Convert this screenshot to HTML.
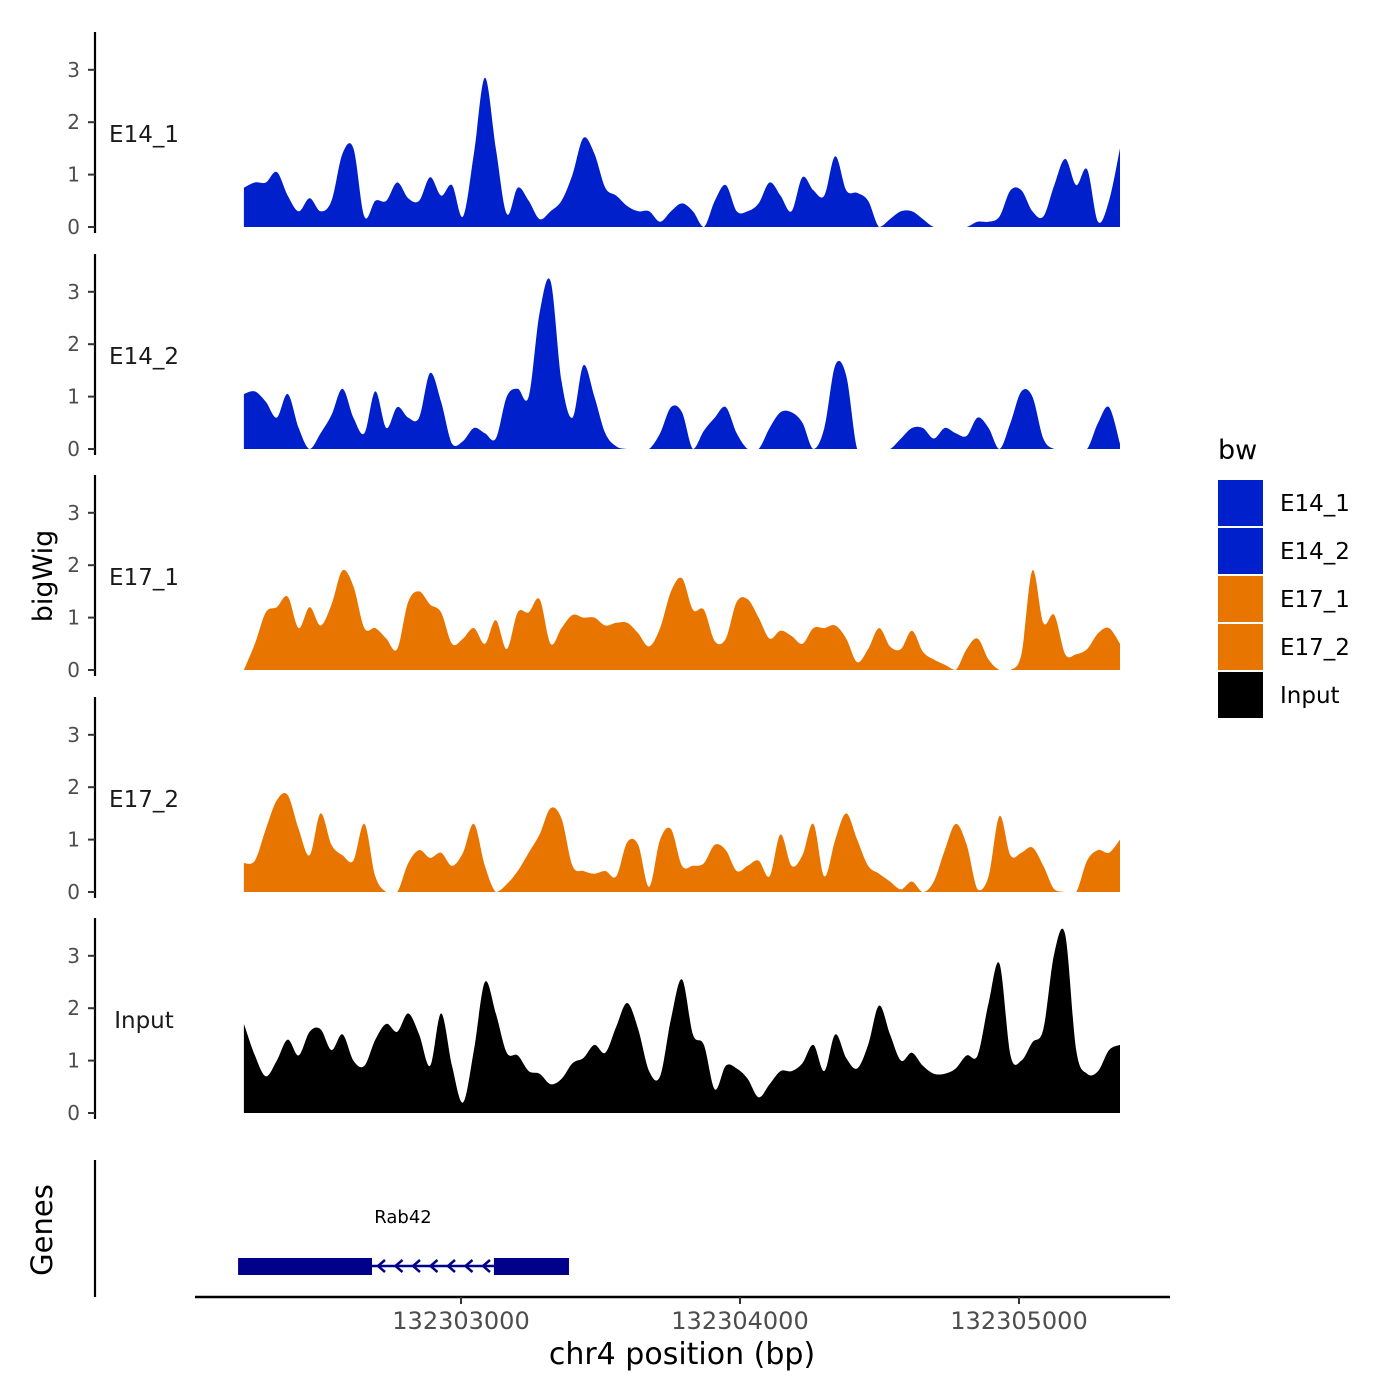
<!DOCTYPE html>
<html><head><meta charset="utf-8"><style>
html,body{margin:0;padding:0;background:#fff}
svg{display:block;font-family:"DejaVu Sans","Liberation Sans",sans-serif}
</style></head><body>
<svg id="chart" width="1400" height="1400" viewBox="0 0 1400 1400"></svg>
<script>
const trackNames = ["E14_1","E14_2","E17_1","E17_2","Input"];
const trackColors = ["#0020cc","#0020cc","#e87500","#e87500","#000000"];
const yTicks = [0,1,2,3];
const xTicks = [132303000,132304000,132305000];
const regionStart = 132302222, regionEnd = 132305362;
const e14_1 = [0.75,0.85,0.85,1.05,0.6,0.3,0.55,0.3,0.5,1.4,1.5,0.2,0.5,0.5,0.85,0.55,0.5,0.95,0.6,0.8,0.2,1.4,2.85,1.5,0.25,0.75,0.5,0.15,0.3,0.5,1.0,1.7,1.4,0.75,0.6,0.4,0.3,0.3,0.1,0.3,0.45,0.3,0.0,0.5,0.8,0.3,0.3,0.45,0.85,0.6,0.3,0.95,0.7,0.6,1.35,0.7,0.65,0.5,0,0.15,0.3,0.3,0.15,0,0,0,0,0.1,0.1,0.2,0.7,0.7,0.3,0.2,0.8,1.3,0.8,1.1,0.1,0.5,1.5];
const e14_2 = [1.05,1.1,0.9,0.6,1.05,0.4,0,0.3,0.65,1.15,0.6,0.3,1.1,0.4,0.8,0.6,0.6,1.45,0.9,0.1,0.15,0.4,0.3,0.2,1.0,1.15,1.0,2.6,3.2,1.3,0.6,1.6,1.0,0.3,0.05,0,0,0,0.3,0.8,0.7,0,0.35,0.6,0.8,0.3,0,0,0.4,0.7,0.7,0.5,0,0.4,1.6,1.4,0,0,0,0,0.2,0.4,0.4,0.2,0.4,0.3,0.25,0.6,0.4,0,0.5,1.1,1.0,0.2,0,0,0,0,0.5,0.8,0.1];
const e17_1 = [0,0.5,1.1,1.2,1.4,0.8,1.2,0.85,1.25,1.9,1.6,0.8,0.8,0.6,0.4,1.3,1.5,1.25,1.1,0.5,0.6,0.8,0.5,0.95,0.4,1.1,1.1,1.35,0.5,0.8,1.05,1.0,1.0,0.85,0.9,0.9,0.7,0.45,0.8,1.5,1.75,1.15,1.15,0.55,0.6,1.3,1.35,1.0,0.6,0.75,0.65,0.5,0.8,0.8,0.85,0.6,0.15,0.4,0.8,0.45,0.4,0.75,0.35,0.2,0.1,0,0.4,0.6,0.2,0,0,0.3,1.9,0.9,1.05,0.3,0.3,0.4,0.7,0.8,0.5];
const e17_2 = [0.55,0.6,1.2,1.75,1.85,1.2,0.7,1.5,0.9,0.7,0.6,1.3,0.3,0,0,0.55,0.8,0.65,0.75,0.5,0.75,1.3,0.5,0,0.15,0.4,0.75,1.1,1.6,1.4,0.5,0.4,0.35,0.4,0.3,0.95,0.9,0.1,1.0,1.2,0.5,0.5,0.55,0.9,0.8,0.4,0.5,0.6,0.3,1.1,0.5,0.7,1.3,0.3,1.0,1.5,1.0,0.5,0.35,0.2,0.05,0.2,0,0.2,0.8,1.3,0.9,0.05,0.3,1.45,0.7,0.75,0.85,0.5,0.05,0,0,0.6,0.8,0.75,1.0];
const input = [1.7,1.1,0.7,1.0,1.4,1.1,1.55,1.6,1.2,1.5,1.0,0.9,1.4,1.7,1.55,1.9,1.5,0.9,1.9,0.9,0.2,1.2,2.5,1.9,1.15,1.1,0.8,0.75,0.55,0.65,0.95,1.05,1.3,1.15,1.65,2.1,1.6,0.8,0.7,1.8,2.55,1.5,1.3,0.45,0.9,0.85,0.65,0.3,0.55,0.8,0.8,0.95,1.3,0.8,1.5,1.05,0.85,1.3,2.05,1.5,1.0,1.15,0.9,0.75,0.75,0.85,1.1,1.1,2.1,2.85,1.1,1.0,1.35,1.6,3.05,3.4,1.2,0.75,0.8,1.2,1.3];
const trackValues = [e14_1,e14_2,e17_1,e17_2,input];
const geneExons = [[132302201,132302681],[132303118,132303387]];
const geneIntron = [132302681,132303118];

const svg = document.getElementById('chart');
const NS = 'http://www.w3.org/2000/svg';
function mk(tag, attrs, parent, text){
  const e = document.createElementNS(NS, tag);
  for (const k in attrs) e.setAttribute(k, attrs[k]);
  if (text !== undefined) e.textContent = text;
  (parent||svg).appendChild(e);
  return e;
}
const xScale = bp => 461 + (bp - 132303000) * 0.279;
const baselines = [227,449,670,892,1113];
const unit = 52.4;

trackNames.forEach((name, t) => {
  const g = mk('g', {});
  
  
  const base = baselines[t];
  const yS = v => base - v * unit;
  const ax = mk('line', {x1:95, x2:95, y1:base-195, y2:base+6, stroke:'#000','stroke-width':2.2}, g);
  
  
  yTicks.forEach(v => {
    const tk = mk('line', {x1:88, x2:95, y1:yS(v), y2:yS(v), stroke:'#333','stroke-width':2}, g);
    
    
    const tl = mk('text', {x:80, y:yS(v)+7, 'text-anchor':'end', 'font-size':20, fill:'#4d4d4d'}, g, String(v));
    
    
  });
  const lab = mk('text', {x:144, y:base-85, 'text-anchor':'middle', 'font-size':23, fill:'#1a1a1a'}, g, name);
  
  
  const vals = trackValues[t];
  const n = vals.length;
  const step = (regionEnd - regionStart) / (n - 1);
  const pts = vals.map((v, i) => [xScale(regionStart + i*step), v]);
  let d = 'M' + pts[0][0].toFixed(1) + ',' + base + ' L' + pts[0][0].toFixed(1) + ',' + yS(pts[0][1]).toFixed(1);
  for (let i = 0; i < n - 1; i++) {
    const p0 = pts[Math.max(0,i-1)], p1 = pts[i], p2 = pts[i+1], p3 = pts[Math.min(n-1,i+2)];
    const k = 1/6;
    const c1x = p1[0] + (p2[0]-p0[0])*k, c1v = Math.max(0, p1[1] + (p2[1]-p0[1])*k);
    const c2x = p2[0] - (p3[0]-p1[0])*k, c2v = Math.max(0, p2[1] - (p3[1]-p1[1])*k);
    d += ' C' + c1x.toFixed(1) + ',' + yS(c1v).toFixed(1) + ' ' + c2x.toFixed(1) + ',' + yS(c2v).toFixed(1) + ' ' + p2[0].toFixed(1) + ',' + yS(p2[1]).toFixed(1);
  }
  d += ' L' + pts[n-1][0].toFixed(1) + ',' + base + ' Z';
  const area = mk('path', {d:d, fill:trackColors[t]}, g);
  
  
});

const yt = mk('text', {x:0, y:0, transform:'translate(52,576) rotate(-90)', 'text-anchor':'middle', 'font-size':27, fill:'#000'}, svg, 'bigWig');



const gg = mk('g', {});


const gt = mk('text', {x:0, y:0, transform:'translate(52,1230) rotate(-90)', 'text-anchor':'middle', 'font-size':29, fill:'#000'}, gg, 'Genes');


const gal = mk('line', {x1:95, x2:95, y1:1160, y2:1297, stroke:'#000','stroke-width':2.2}, gg);


const intr = mk('line', {x1:xScale(geneIntron[0]), x2:xScale(geneIntron[1]), y1:1266, y2:1266, stroke:'#00008b','stroke-width':2.5}, gg);


for (let i = 0; i < 7; i++) {
  const ax0 = xScale(geneIntron[0]) + 6 + i * 17.5;
  const ar = mk('path', {d:`M${ax0+7},1260 L${ax0},1266 L${ax0+7},1272`, fill:'none', stroke:'#00008b','stroke-width':2.5}, gg);
  
  
}
geneExons.forEach(ex => {
  const r = mk('rect', {x:xScale(ex[0]), y:1258, width:xScale(ex[1])-xScale(ex[0]), height:17, fill:'#00008b'}, gg);
  
  
});
const gn = mk('text', {x:403, y:1223, 'text-anchor':'middle', 'font-size':18, fill:'#000'}, gg, 'Rab42');



const xa = mk('line', {x1:195, x2:1170, y1:1297, y2:1297, stroke:'#000','stroke-width':2.5});


xTicks.forEach(v => {
  const tk = mk('line', {x1:xScale(v), x2:xScale(v), y1:1297, y2:1304, stroke:'#333','stroke-width':2});
  
  
  const tl = mk('text', {x:xScale(v), y:1329, 'text-anchor':'middle', 'font-size':24, fill:'#4d4d4d'}, svg, String(v));
  
  
});
const xt = mk('text', {x:682, y:1364, 'text-anchor':'middle', 'font-size':30, fill:'#000'}, svg, 'chr4 position (bp)');



const lg = mk('g', {});


const lt = mk('text', {x:1218, y:459, 'font-size':27, fill:'#000'}, lg, 'bw');


trackNames.forEach((name, i) => {
  const sw = mk('rect', {x:1218, y:480 + i*48, width:45, height:46, fill:trackColors[i]}, lg);
  
  
  const tx = mk('text', {x:1280, y:511 + i*48, 'font-size':23, fill:'#000'}, lg, name);
  
  
});
</script>
</body></html>
